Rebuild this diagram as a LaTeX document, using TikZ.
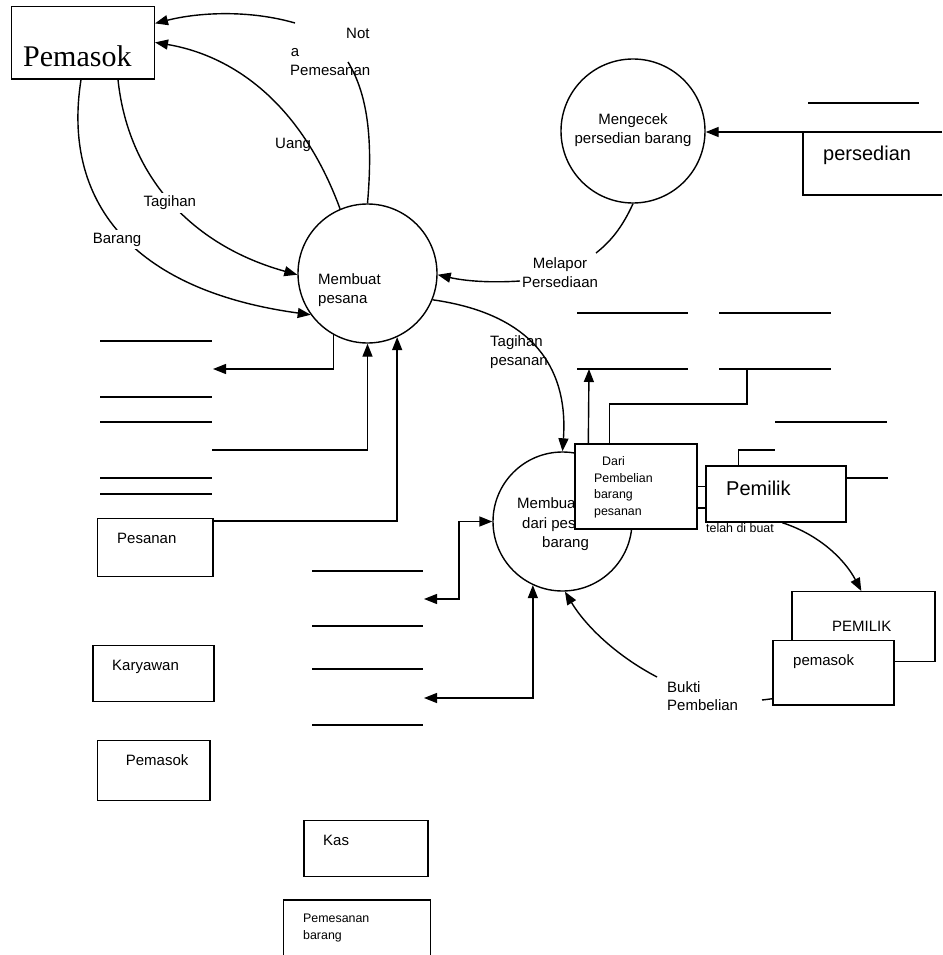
\documentclass[tikz,border=0pt]{standalone}
\usepackage{fontspec}
\setmainfont{Liberation Sans}
\newfontfamily\serifA{Liberation Serif}
\usetikzlibrary{arrows.meta}
\begin{document}
\begin{tikzpicture}[x=1pt,y=-1pt,
  ln/.style={line width=1.4pt},
  arr/.style={ln,-{Triangle[length=13pt,width=10pt]}},
  darr/.style={ln,{Triangle[length=13pt,width=10pt]}-{Triangle[length=13pt,width=10pt]}},
  box/.style={draw,ln,fill=white,inner sep=0pt},
  proc/.style={draw,ln,circle,inner sep=0pt},
  t/.style={inner sep=0pt,anchor=base west,font=\fontsize{15}{19}\selectfont},
  tc/.style={inner sep=0pt,anchor=base,font=\fontsize{15}{19}\selectfont},
  ts/.style={inner sep=0pt,anchor=base west,font=\fontsize{12.4}{16.5}\selectfont},
  tb/.style={inner sep=0pt,anchor=base west,font=\fontsize{20}{24}\selectfont},
]
\useasboundingbox (0,0) rectangle (942,955);

% processes
\node[proc, minimum size=139pt] (pesan) at (367.5,273.5) {};
\node[proc, minimum size=144pt] (cek) at (633,131) {};
\node[proc, minimum size=139pt] (buat) at (562.5,521.5) {};
\node[t] (tpes1) at (318,284) {Membuat};
\node[t] (tpes2) at (318,303.3) {pesana};
\node[tc] (tcek1) at (633,124.3) {Mengecek};
\node[tc] (tcek2) at (633,143.3) {persedian barang};
\node[t] (tbu1) at (517,508.3) {Membuat};
\node[t] (tbu2) at (522,528.3) {dari pesanan};
\node[t] (tbu3) at (542,547.7) {barang};

% Pemasok entity
\node[box, minimum width=142.6pt, minimum height=72.4pt] (pemasok) at (83,42.8) {};
\node[inner sep=0pt, anchor=base west, font=\serifA\fontsize{30}{36}\selectfont] (tpem) at (23,66.5) {Pemasok};

% Nota Pemesanan
\coordinate (nA) at (348,62);
\coordinate (nB) at (295,23);
\draw[ln] (pesan.90) .. controls (373,140) and (368,95) .. (nA);
\draw[arr] (nB) .. controls (250,10) and (200,12) .. ([yshift=-17.5pt]pemasok.north east);
\node[t] (lnot) at (346,38.3) {Not};
\node[t] (la) at (290.7,56.7) {a};
\node[t] (lpms) at (290,76) {Pemesanan};

% Uang
\draw[arr] (pesan.113) .. controls (300,100) and (230,55) .. ([yshift=-36.5pt]pemasok.north east);
\node[t] (luang) at (275,148.3) {Uang};

% Tagihan, Barang
\draw[arr] ([xshift=35pt]pemasok.south) .. controls (128,175) and (190,245) .. (pesan.181);
\draw[arr] ([xshift=-2pt]pemasok.south) .. controls (62,200) and (130,290) .. (pesan.216);
\node[t, fill=white, inner sep=3pt] (ltag) at (140.3,206.7) {Tagihan};
\node[t, fill=white, inner sep=3pt] (lbar) at (89.7,243.3) {Barang};

% Melapor Persediaan
\coordinate (mA) at (596,253);
\coordinate (mB) at (520,281);
\draw[ln] (cek.-90) .. controls (622,228) and (610,242) .. (mA);
\draw[arr] (mB) .. controls (490,283) and (465,281) .. (pesan.-1);
\node[tc] (lmel1) at (560,268.3) {Melapor};
\node[tc] (lmel2) at (560,287.3) {Persediaan};

% persedian store
\draw[ln] (808,103) -- (919,103);
\draw[ln] (942,132) -- (803,132) -- (803,195) -- (942,195);
\coordinate (ps) at (803,132);
\draw[arr] (ps) -- (cek.east |- ps);
\node[tb] (lpers) at (823,160.7) {persedian};

% Tagihan pesanan
\draw[arr] (pesan.-22) .. controls (540,315) and (568,375) .. (buat.90);
\node[t] (ltp1) at (490,346) {Tagihan};
\node[t] (ltp2) at (490,365.7) {pesanan};

% upper right store lines
\draw[ln] (577,313) -- (688,313);
\draw[ln] (577,369) -- (688,369);
\draw[ln] (719,313) -- (831,313);
\draw[ln] (719,369) -- (831,369);
\draw[ln] (775,422) -- (887,422);

% Dari box
\node[box, minimum width=122pt, minimum height=85pt] (dari) at (636,486.5) {};
\node[ts] (ld1) at (602,465.7) {Dari};
\node[ts] (ld2) at (594,482.3) {Pembelian};
\node[ts] (ld3) at (594,498.3) {barang};
\node[ts] (ld4) at (594,515) {pesanan};
\coordinate (s1) at (589,369);
\draw[arr] ([xshift=14pt]dari.north west) -- (s1);
\draw[ln] ([xshift=35pt]dari.north west) |- (747,404) -- (747,369);

% Pemilik box
\node[box, minimum width=140pt, minimum height=56pt] (pemilik) at (776,494) {};
\node[tb] (lpml) at (726,495) {Pemilik};
\node[ts] (ltdb) at (706,532.7) {telah di buat};
\draw[ln] (dari.east) -- (dari.east -| pemilik.west);
\draw[ln] ([yshift=-21.5pt]dari.east) -- ([yshift=-21.5pt]dari.east -| pemilik.west);
\draw[ln] ([xshift=33pt]pemilik.north west) |- (775,450);
\draw[ln] ([yshift=16pt]pemilik.east) -- ++(41,0);

% PEMILIK and pemasok boxes
\node[box, minimum width=143pt, minimum height=70pt] (pmlk) at (863.5,626.7) {};
\node[t] (lPML) at (832,631.7) {PEMILIK};
\node[box, minimum width=121pt, minimum height=64.3pt] (pmsb) at (833.5,672.9) {};
\node[t] (lpmsb) at (793,665) {pemasok};
\draw[arr] ([xshift=77pt]pemilik.south west) .. controls (820,535) and (845,560) .. ([xshift=70pt]pmlk.north west);

% Bukti Pembelian
\coordinate (bA) at (762,700);
\coordinate (bB) at (657,677);
\draw[ln] ([yshift=7pt]pmsb.south west) -- (bA);
\draw[arr] (bB) .. controls (615,655) and (585,625) .. (buat.-88);
\node[t] (lbk1) at (667,692.7) {Bukti};
\node[t] (lbk2) at (667,710.7) {Pembelian};

% left stores
\draw[ln] (100,341) -- (212,341);
\draw[ln] (100,397) -- (212,397);
\draw[ln] (100,422) -- (212,422);
\draw[ln] (100,478) -- (212,478);
\draw[ln] (100,494) -- (212,494);
\coordinate (s2) at (213,369);
\draw[arr] (pesan.241) |- (s2);
\coordinate (s3) at (212,450);
\draw[arr] (s3) -| (pesan.south);
\node[box, minimum width=115.3pt, minimum height=58pt] (pesanan) at (155.35,547.7) {};
\node[t] (lpsn) at (117,543.3) {Pesanan};
\draw[arr] ([yshift=-3pt]pesanan.north east) -| (pesan.-65);

% middle stores
\draw[ln] (312,571) -- (423,571);
\draw[ln] (312,626) -- (423,626);
\draw[ln] (312,669) -- (423,669);
\draw[ln] (312,725) -- (423,725);
\coordinate (s4) at (424,599);
\draw[darr] (buat.west) -| (459,599) -- (s4);
\coordinate (s5) at (424,698);
\draw[darr] (buat.-115) |- (s5);

% other entities
\node[box, minimum width=121pt, minimum height=56pt] (kary) at (153.5,673.7) {};
\node[t] (lkary) at (112,670.3) {Karyawan};
\node[box, minimum width=112.3pt, minimum height=60pt] (pms2) at (153.85,770.7) {};
\node[t] (lpms2) at (125.7,765.3) {Pemasok};
\node[box, minimum width=124pt, minimum height=56pt] (kas) at (366,848.7) {};
\node[t] (lkas) at (323,845.3) {Kas};
\node[box, minimum width=147pt, minimum height=80pt] (pbr) at (357.2,940) {};
\node[ts] (lpb1) at (303,922.7) {Pemesanan};
\node[ts] (lpb2) at (303,939.3) {barang};
\end{tikzpicture}
\end{document}
